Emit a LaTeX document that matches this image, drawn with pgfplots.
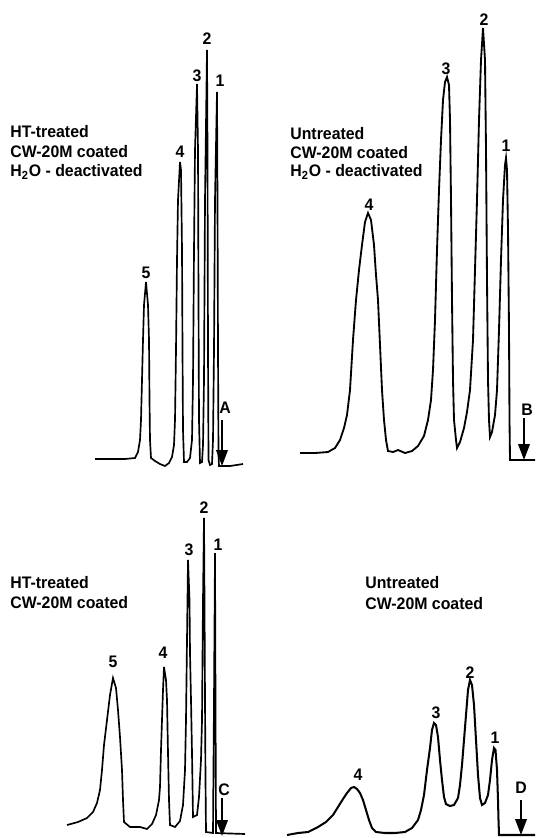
\documentclass[border=0pt]{standalone}
\usepackage{pgfplots}
\pgfplotsset{compat=1.18}
\usepackage{fontspec}
\setmainfont{Liberation Sans}[FakeStretch=0.95]
\usetikzlibrary{arrows.meta}
\tikzset{lab/.style={font=\fontsize{9.5}{11}\selectfont\bfseries, inner sep=0pt},
  arr/.style={black, line width=1.1pt, arrows={-Triangle[length=9pt,width=6.5pt]}}}
\begin{document}
\begin{tikzpicture}
\begin{axis}[
  scale only axis, width=10.7cm, height=16.76cm,
  xmin=0, xmax=535, ymin=0, ymax=838, y dir=reverse,
  hide axis, clip=false,
]
\addplot[draw=none] coordinates {(0,0) (535,838)};
% Panel A: HT-treated, CW-20M coated, H2O-deactivated
\addplot[black, line width=0.95pt] coordinates {
(95,459) (110,459) (125,459) (135,458) (138,452) (140,440) (141,420) (142,380) (143,340) (144,305) (146,282) (148,305) (149,340) (149.5,400) (150,440) (151,458) (155,461) (160,464) (165,466) (169,463) (172,457) (174,445) (175,420) (176,350) (177,260) (178,200) (180,162) (181,170) (182,250) (182.5,350) (183,430) (184,462) (187,462) (190,458) (192,440) (193,380) (194,250) (195,150) (197,84) (198,150) (198.5,300) (199,420) (200,463) (202,462) (203,445) (204,380) (205,200) (207,50) (207.5,150) (208,350) (208.5,460) (210,465) (212,464) (213,440) (214,350) (215,200) (217,92) (217.5,200) (218,350) (218.5,455) (219,466) (230,466) (243,464)};
\addplot[arr] coordinates {(222,420) (222,466)};
\node[lab, anchor=base west] at (axis cs:10,138) {HT-treated};
\node[lab, anchor=base west] at (axis cs:10,158) {CW-20M coated};
\node[lab, anchor=base west] at (axis cs:10,177) {H\textsubscript{2}O - deactivated};
\node[lab, anchor=base] at (axis cs:146,278) {5};
\node[lab, anchor=base] at (axis cs:180,158) {4};
\node[lab, anchor=base] at (axis cs:197,82) {3};
\node[lab, anchor=base] at (axis cs:207,45) {2};
\node[lab, anchor=base] at (axis cs:220,87) {1};
\node[lab, anchor=base] at (axis cs:225,413) {A};
% Panel B: Untreated, CW-20M coated, H2O-deactivated
\addplot[black, line width=1.05pt] coordinates {
(300,453) (315,453) (328,452) (335,448) (340,440) (344,428) (347,415) (350,390) (353,340) (356,300) (359,270) (362,245) (365,222) (368,213) (371,220) (374,245) (376,275) (378,300) (380,345) (382,390) (384,420) (386,440) (388,451) (393,452) (398,450) (405,453) (412,451) (418,446) (424,436) (428,420) (431,400) (433,370) (435,320) (437,250) (439,190) (441,140) (443,100) (445,82) (447,77) (449,85) (450,120) (451,200) (452,300) (453,380) (454,420) (456,440) (457,448) (460,442) (464,428) (467,412) (470,390) (473,340) (475,270) (477,200) (479,120) (481,60) (483,28) (485,60) (486,150) (487,280) (488,380) (489,420) (490,437) (492,432) (495,415) (497,390) (499,330) (501,260) (503,200) (505,165) (506,158) (507,170) (508,230) (509,330) (509.5,420) (510,460) (520,460) (535,460)};
\addplot[arr] coordinates {(524,418) (524,460)};
\node[lab, anchor=base west] at (axis cs:290,140) {Untreated};
\node[lab, anchor=base west] at (axis cs:290,159) {CW-20M coated};
\node[lab, anchor=base west] at (axis cs:290,177) {H\textsubscript{2}O - deactivated};
\node[lab, anchor=base] at (axis cs:369,210) {4};
\node[lab, anchor=base] at (axis cs:446,75) {3};
\node[lab, anchor=base] at (axis cs:484,26) {2};
\node[lab, anchor=base] at (axis cs:506,152) {1};
\node[lab, anchor=base] at (axis cs:527,415) {B};
% Panel C: HT-treated, CW-20M coated
\addplot[black, line width=0.95pt] coordinates {
(67,825) (78,822) (87,818) (93,812) (97,803) (100,790) (102,770) (104,745) (107,720) (110,695) (113,678) (116,688) (118,710) (120,737) (122,770) (123,800) (124,822) (130,827) (140,827) (147,829) (152,824) (156,815) (159,800) (160,787) (161,750) (162,720) (163,690) (164,667) (166,680) (167,700) (168,753) (169,800) (170,825) (175,827) (180,821) (183,805) (185,770) (186,720) (187,640) (188,560) (189.5,600) (190,653) (191,700) (192,753) (193,817) (197,815) (199,797) (201,760) (202,720) (203,600) (204,518) (204.5,600) (205,700) (205.5,780) (206,832) (213,833) (214,700) (215,553) (215.5,700) (216,833) (245,834)};
\addplot[arr] coordinates {(222,798) (222,836)};
\node[lab, anchor=base west] at (axis cs:10,588) {HT-treated};
\node[lab, anchor=base west] at (axis cs:10,608) {CW-20M coated};
\node[lab, anchor=base] at (axis cs:113,667) {5};
\node[lab, anchor=base] at (axis cs:163,658) {4};
\node[lab, anchor=base] at (axis cs:189,555) {3};
\node[lab, anchor=base] at (axis cs:204,513) {2};
\node[lab, anchor=base] at (axis cs:218,550) {1};
\node[lab, anchor=base] at (axis cs:224,795) {C};
% Panel D: Untreated, CW-20M coated
\addplot[black, line width=1.15pt] coordinates {
(287,835) (298,833) (308,832) (318,827) (326,822) (333,815) (338,807) (343,799) (347,793) (351,788) (354,787) (357,789) (360,793) (363,800) (366,810) (369,820) (372,828) (376,832) (385,833) (395,833) (405,832) (412,828) (418,820) (421,810) (424,795) (427,770) (430,748) (432,730) (434,723) (436,725) (438,737) (440,760) (442,780) (444,797) (446,804) (450,806) (454,805) (458,798) (460,785) (462,765) (464,740) (466,715) (468,690) (470,680) (472,685) (474,705) (476,740) (478,775) (480,798) (482,805) (485,803) (488,795) (490,780) (492,760) (494,748) (495.5,750) (497,770) (498,800) (498.5,820) (499,835) (535,835)};
\addplot[arr] coordinates {(521,800) (521,835)};
\node[lab, anchor=base west] at (axis cs:365,588) {Untreated};
\node[lab, anchor=base west] at (axis cs:365,609) {CW-20M coated};
\node[lab, anchor=base] at (axis cs:358,780) {4};
\node[lab, anchor=base] at (axis cs:436,718) {3};
\node[lab, anchor=base] at (axis cs:470,678) {2};
\node[lab, anchor=base] at (axis cs:495,743) {1};
\node[lab, anchor=base] at (axis cs:521,793) {D};
\end{axis}
\end{tikzpicture}
\end{document}
